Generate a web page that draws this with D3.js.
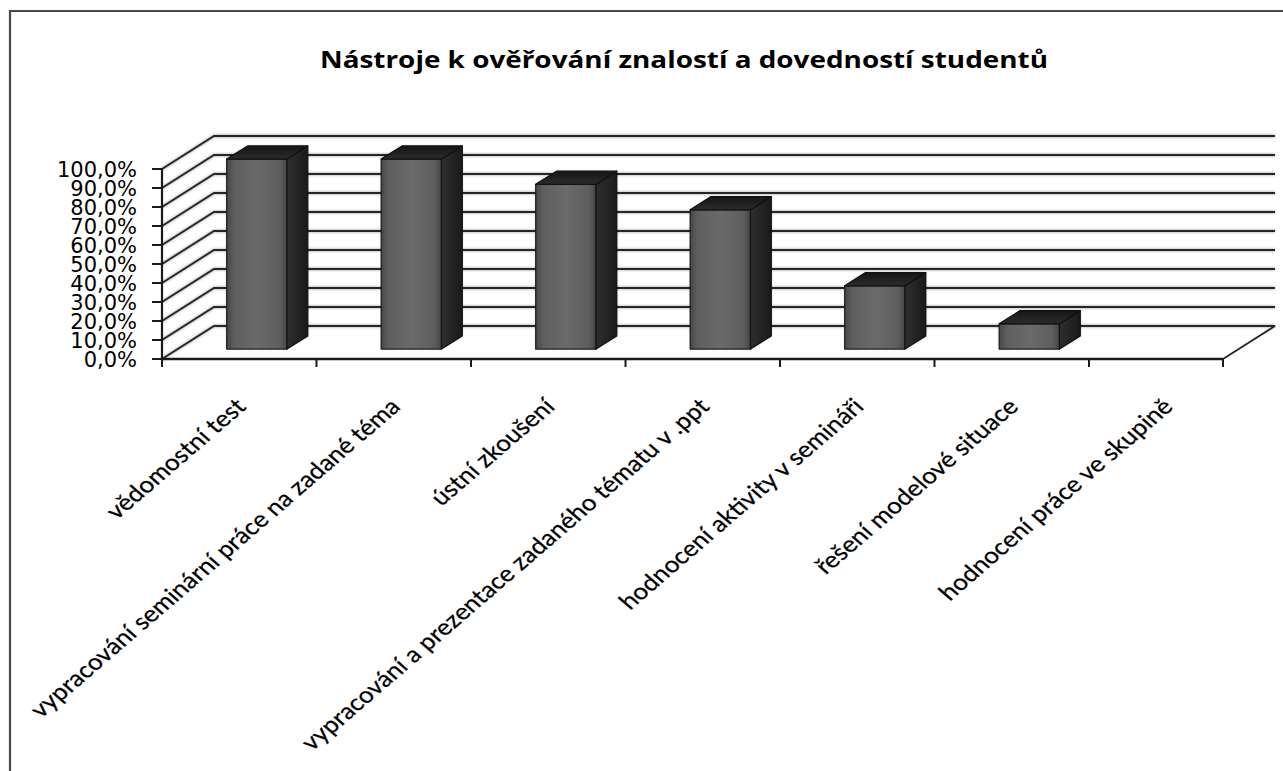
<!DOCTYPE html>
<html>
<head>
<meta charset="utf-8">
<script src="https://cdnjs.cloudflare.com/ajax/libs/d3/7.8.5/d3.min.js"></script>
<style>
  html, body { margin: 0; padding: 0; background: #fff; }
  svg { display: block; }
</style>
</head>
<body>
<svg id="chart" width="1283" height="771"></svg>
<script>
// ---- data ----
const title = "Nástroje k ověřování znalostí a dovedností studentů";
const categories = [
  "vědomostní test",
  "vypracování seminární práce na zadané téma",
  "ústní zkoušení",
  "vypracování a prezentace zadaného tématu v .ppt",
  "hodnocení aktivity v semináři",
  "řešení modelové situace",
  "hodnocení práce ve skupině"
];
const values = [1.0, 1.0, 0.867, 0.733, 0.333, 0.133, 0.0];
const yTickValues = [0, 0.1, 0.2, 0.3, 0.4, 0.5, 0.6, 0.7, 0.8, 0.9, 1.0];
const yTickLabels = ["0,0%", "10,0%", "20,0%", "30,0%", "40,0%", "50,0%", "60,0%", "70,0%", "80,0%", "90,0%", "100,0%"];

// ---- layout ----
const svg = d3.select("#chart");
const W = 1283, H = 771;
const x0 = 162, step = 154.5, axisEnd = 1223;
const DX = 52, DY = -33;          // depth vector (back wall offset)
const z0 = 0.3, z1 = 0.7;         // bar depth span

const x = d3.scaleBand().domain(categories)
  .range([x0, x0 + step * categories.length])
  .paddingInner(0.61).paddingOuter(0.305);
const y = d3.scaleLinear().domain([0, 1]).range([359, 169]);

// defs
const defs = svg.append("defs");
const gFront = defs.append("linearGradient").attr("id", "gFront").attr("x1", "0").attr("x2", "1").attr("y1", "0").attr("y2", "0");
[["0%", "#474747"], ["12%", "#5e5e5e"], ["50%", "#6a6a6a"], ["88%", "#5e5e5e"], ["100%", "#454545"]]
  .forEach(([o, c]) => gFront.append("stop").attr("offset", o).attr("stop-color", c));
const gSide = defs.append("linearGradient").attr("id", "gSide").attr("x1", "0").attr("x2", "1");
[["0%", "#2e2e2e"], ["100%", "#1a1a1a"]].forEach(([o, c]) => gSide.append("stop").attr("offset", o).attr("stop-color", c));
const gTop = defs.append("linearGradient").attr("id", "gTop").attr("x1", "0").attr("x2", "0").attr("y1", "1").attr("y2", "0");
[["0%", "#2c2c2c"], ["100%", "#151515"]].forEach(([o, c]) => gTop.append("stop").attr("offset", o).attr("stop-color", c));
const blur = defs.append("filter").attr("id", "soft").attr("x", "-20%").attr("y", "-20%").attr("width", "140%").attr("height", "140%");
blur.append("feGaussianBlur").attr("stdDeviation", 1.2);

// frame
svg.append("path").attr("d", `M10,${H} L10,11 L${W},11`)
  .attr("fill", "none").attr("stroke", "#4a4a4a").attr("stroke-width", 2.2);

// title
svg.append("text").attr("x", 684).attr("y", 68)
  .attr("text-anchor", "middle")
  .attr("font-family", "'Open Sans', sans-serif").attr("font-weight", 700)
  .attr("font-size", 23)
  .attr("textLength", 728).attr("lengthAdjust", "spacingAndGlyphs")
  .attr("fill", "#000").text(title);

// gridlines (side wall diagonals + back wall horizontals)
const grid = svg.append("g");
yTickValues.forEach(t => {
  const d = `M${x0},${y(t)} L${x0 + DX},${y(t) + DY} L${axisEnd + DX},${y(t) + DY}`;
  grid.append("path").attr("d", d).attr("fill", "none")
    .attr("stroke", "#b5b5b5").attr("stroke-width", 3.2).attr("filter", "url(#soft)");
  grid.append("path").attr("d", d).attr("fill", "none")
    .attr("stroke", "#262626").attr("stroke-width", 1.8);
});
// floor right edge
svg.append("path").attr("d", `M${axisEnd},${y(0)} L${axisEnd + DX},${y(0) + DY}`)
  .attr("stroke", "#262626").attr("stroke-width", 1.8).attr("fill", "none");

// bars
const bars = svg.append("g");
categories.forEach((c, i) => {
  const v = values[i];
  if (v <= 0) return;
  const bx = x(c) + 2 + z0 * DX, bw = x.bandwidth();
  const by = y(v) + z0 * DY, bb = y(0) + z0 * DY;
  const ddx = (z1 - z0) * DX, ddy = (z1 - z0) * DY;
  const g = bars.append("g");
  g.append("path").attr("d", `M${bx},${bb} L${bx},${by} L${bx + ddx},${by + ddy} L${bx + bw + ddx},${by + ddy} L${bx + bw + ddx},${bb + ddy} L${bx + bw},${bb} Z`)
    .attr("fill", "#000").attr("opacity", 0.35).attr("filter", "url(#soft)");
  g.append("rect").attr("x", bx).attr("y", by).attr("width", bw).attr("height", bb - by)
    .attr("fill", "url(#gFront)").attr("stroke", "#1c1c1c").attr("stroke-width", 1.2);
  g.append("path").attr("d", `M${bx + bw},${by} L${bx + bw + ddx},${by + ddy} L${bx + bw + ddx},${bb + ddy} L${bx + bw},${bb} Z`)
    .attr("fill", "url(#gSide)").attr("stroke", "#111").attr("stroke-width", 1.2).attr("stroke-linejoin", "round");
  g.append("path").attr("d", `M${bx},${by} L${bx + ddx},${by + ddy} L${bx + bw + ddx},${by + ddy} L${bx + bw},${by} Z`)
    .attr("fill", "url(#gTop)").attr("stroke", "#111").attr("stroke-width", 1.2).attr("stroke-linejoin", "round");
});

// y axis
const ya = svg.append("g");
ya.append("line").attr("x1", x0).attr("x2", x0).attr("y1", y(0)).attr("y2", y(1))
  .attr("stroke", "#1a1a1a").attr("stroke-width", 2.2);
yTickValues.forEach((t, i) => {
  ya.append("line").attr("x1", x0 - 10).attr("x2", x0).attr("y1", y(t)).attr("y2", y(t))
    .attr("stroke", "#1a1a1a").attr("stroke-width", 2);
  ya.append("text").attr("x", 137).attr("y", y(t)).attr("dy", "0.36em")
    .attr("text-anchor", "end")
    .attr("font-family", "'DejaVu Sans', sans-serif").attr("font-size", 21)
    .attr("fill", "#000").text(yTickLabels[i]);
});

// x axis
const xa = svg.append("g");
xa.append("line").attr("x1", x0).attr("x2", axisEnd).attr("y1", y(0)).attr("y2", y(0))
  .attr("stroke", "#1a1a1a").attr("stroke-width", 2.6);
const tickXs = categories.map((c, i) => x(c) - x.step() * x.paddingInner() / 2).concat([axisEnd]);
tickXs.forEach(tx => {
  xa.append("line").attr("x1", tx).attr("x2", tx).attr("y1", y(0)).attr("y2", y(0) + 8)
    .attr("stroke", "#1a1a1a").attr("stroke-width", 2);
});
categories.forEach(c => {
  const cx = x(c) + x.bandwidth() / 2 + 8;
  xa.append("text")
    .attr("transform", `translate(${cx},408) scale(1.16,1) rotate(-45)`)
    .attr("text-anchor", "end")
    .attr("font-family", "Lato, sans-serif").attr("font-size", 22.5)
    .attr("stroke", "#000").attr("stroke-width", 0.25)
    .attr("fill", "#000").text(c);
});
</script>
</body>
</html>
